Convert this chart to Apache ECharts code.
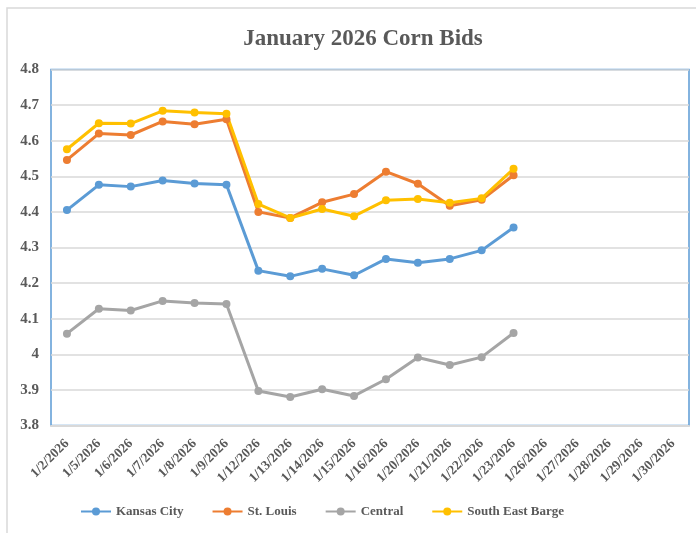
<!DOCTYPE html>
<html style="height: 100%">

<head>
  <meta charset="utf-8">
</head>

<body style="height: 100%; margin: 0; background: #fff">
  <div id="container" style="width: 696px; height: 533px"></div>
  <script type="text/javascript" src="https://cdn.jsdelivr.net/npm/echarts@6/dist/echarts.min.js"></script>
  <script type="text/javascript">
    var dates = ['1/2/2026', '1/5/2026', '1/6/2026', '1/7/2026', '1/8/2026', '1/9/2026',
      '1/12/2026', '1/13/2026', '1/14/2026', '1/15/2026', '1/16/2026', '1/20/2026',
      '1/21/2026', '1/22/2026', '1/23/2026', '1/26/2026', '1/27/2026', '1/28/2026',
      '1/29/2026', '1/30/2026'];
    var kansasCity = [4.405, 4.476, 4.471, 4.488, 4.480, 4.476, 4.235, 4.219, 4.240, 4.222,
      4.268, 4.257, 4.268, 4.292, 4.356];
    var stLouis = [4.546, 4.620, 4.616, 4.654, 4.646, 4.660, 4.400, 4.383, 4.427, 4.450,
      4.513, 4.479, 4.417, 4.434, 4.503];
    var central = [4.058, 4.128, 4.123, 4.150, 4.144, 4.141, 3.897, 3.880, 3.902, 3.883,
      3.930, 3.991, 3.970, 3.992, 4.060];
    var seBarge = [4.576, 4.649, 4.648, 4.684, 4.679, 4.676, 4.422, 4.383, 4.408, 4.388,
      4.433, 4.436, 4.426, 4.438, 4.521];

    var font = '"Liberation Serif", "Times New Roman", serif';
    var txt = '#595959';

    function line(name, data, color) {
      return {
        name: name,
        type: 'line',
        data: data,
        symbol: 'circle',
        symbolSize: 8,
        lineStyle: { width: 3, color: color },
        itemStyle: { color: color },
        animation: false
      };
    }

    var myChart = echarts.init(document.getElementById('container'));
    var option = {
      backgroundColor: '#fff',
      graphic: [{
        type: 'rect',
        shape: { x: 7, y: 8, width: 720, height: 560 },
        style: { fill: null, stroke: '#d9d9d9', lineWidth: 1.5 },
        silent: true
      }],
      title: {
        text: 'January 2026 Corn Bids',
        left: 358,
        textAlign: 'center',
        top: 23,
        textStyle: { fontFamily: font, fontSize: 23, fontWeight: 'bold', color: txt }
      },
      legend: {
        left: 75,
        top: 500,
        itemWidth: 30,
        itemHeight: 10,
        itemGap: 28,
        textStyle: { fontFamily: font, fontSize: 13, fontWeight: 'bold', color: txt },
        data: ['Kansas City', 'St. Louis', 'Central', 'South East Barge']
      },
      grid: {
        left: 51,
        right: 7,
        top: 69.5,
        bottom: 107.5,
        show: true,
        borderColor: '#5b9bd5',
        borderWidth: 1.5
      },
      xAxis: {
        type: 'category',
        data: dates,
        boundaryGap: true,
        axisLine: { lineStyle: { color: '#d9d9d9', width: 2 } },
        axisTick: { show: false },
        axisLabel: {
          rotate: 45,
          interval: 0,
          margin: 16,
          fontFamily: font,
          fontSize: 13.5,
          fontWeight: 'bold',
          color: txt
        }
      },
      yAxis: {
        type: 'value',
        min: 3.8,
        max: 4.8,
        interval: 0.1,
        axisLine: { show: false },
        axisTick: { show: false },
        splitLine: { lineStyle: { color: '#d9d9d9', width: 1.5 } },
        axisLabel: {
          margin: 12,
          fontFamily: font,
          fontSize: 15,
          fontWeight: 'bold',
          color: txt
        }
      },
      series: [
        line('Kansas City', kansasCity, '#5b9bd5'),
        line('St. Louis', stLouis, '#ed7d31'),
        line('Central', central, '#a5a5a5'),
        line('South East Barge', seBarge, '#ffc000')
      ]
    };
    myChart.setOption(option);
  </script>
</body>

</html>
